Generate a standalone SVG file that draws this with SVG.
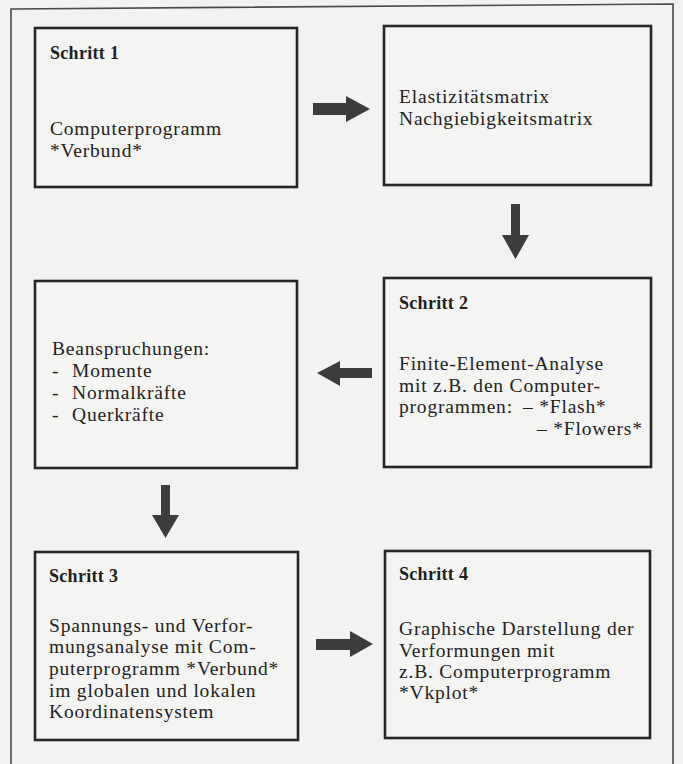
<svg xmlns="http://www.w3.org/2000/svg" width="683" height="764" viewBox="0 0 683 764">
<style>
.bg{fill:#f2f2f0}
.frame{fill:none;stroke:#4a4a4a;stroke-width:1.6}
.box{fill:#f4f4f2;stroke:#262626;stroke-width:2.6}
.t{font-family:"Liberation Serif","Times New Roman",serif;font-size:19.5px;letter-spacing:0.8px;fill:#222}
.h{font-family:"Liberation Serif","Times New Roman",serif;font-size:18px;font-weight:bold;letter-spacing:0.3px;fill:#1e1e1e}
.arr{fill:#3c3c3c}
</style>
<rect class="bg" x="0" y="0" width="683" height="764"/>
<path class="frame" d="M11,764 L11,9 L673,4 L673,764"/>

<g id="schritt1">
<rect class="box" x="35" y="28" width="262" height="159"/>
<text class="h" x="50" y="59">Schritt 1</text>
<text class="t" x="50" y="135">Computerprogramm</text>
<text class="t" x="50" y="157">*Verbund*</text>
</g>

<g id="matrix">
<rect class="box" x="384" y="26" width="267" height="159"/>
<text class="t" x="399" y="103">Elastizitätsmatrix</text>
<text class="t" x="399" y="125">Nachgiebigkeitsmatrix</text>
</g>

<g id="beanspruchungen">
<rect class="box" x="35" y="281" width="262" height="187"/>
<text class="t" x="52" y="355">Beanspruchungen:</text>
<text class="t" x="52" y="377">-</text><text class="t" x="72" y="377">Momente</text>
<text class="t" x="52" y="399">-</text><text class="t" x="72" y="399">Normalkräfte</text>
<text class="t" x="52" y="421">-</text><text class="t" x="72" y="421">Querkräfte</text>
</g>

<g id="schritt2">
<rect class="box" x="384" y="278" width="267" height="189"/>
<text class="h" x="399" y="309">Schritt 2</text>
<text class="t" x="399" y="370">Finite-Element-Analyse</text>
<text class="t" x="399" y="392">mit z.B. den Computer-</text>
<text class="t" x="399" y="413">programmen:</text>
<text class="t" x="523" y="413">– *Flash*</text>
<text class="t" x="537" y="435">– *Flowers*</text>
</g>

<g id="schritt3">
<rect class="box" x="35" y="552" width="263" height="188"/>
<text class="h" x="49" y="582">Schritt 3</text>
<text class="t" x="49" y="632">Spannungs- und Verfor-</text>
<text class="t" x="49" y="653">mungsanalyse mit Com-</text>
<text class="t" x="49" y="675">puterprogramm *Verbund*</text>
<text class="t" x="49" y="697">im globalen und lokalen</text>
<text class="t" x="49" y="718">Koordinatensystem</text>
</g>

<g id="schritt4">
<rect class="box" x="385" y="551" width="265" height="187"/>
<text class="h" x="399" y="580">Schritt 4</text>
<text class="t" x="399" y="635">Graphische Darstellung der</text>
<text class="t" x="399" y="657">Verformungen mit</text>
<text class="t" x="399" y="678">z.B. Computerprogramm</text>
<text class="t" x="399" y="699">*Vkplot*</text>
</g>

<g id="connectors">
<polygon class="arr" points="313,103 346,103 346,96 370,109 346,122 346,115 313,115"/>
<polygon class="arr" points="511,204 520,204 520,235 529,235 515.5,259 502,235 511,235"/>
<polygon class="arr" points="372,368 340,368 340,361 317,373 340,386 340,378 372,378"/>
<polygon class="arr" points="161,485 170,485 170,515 179,515 165.5,538 152,515 161,515"/>
<polygon class="arr" points="316,639 350,639 350,631 373,644 350,657 350,650 316,650"/>
</g>
</svg>
